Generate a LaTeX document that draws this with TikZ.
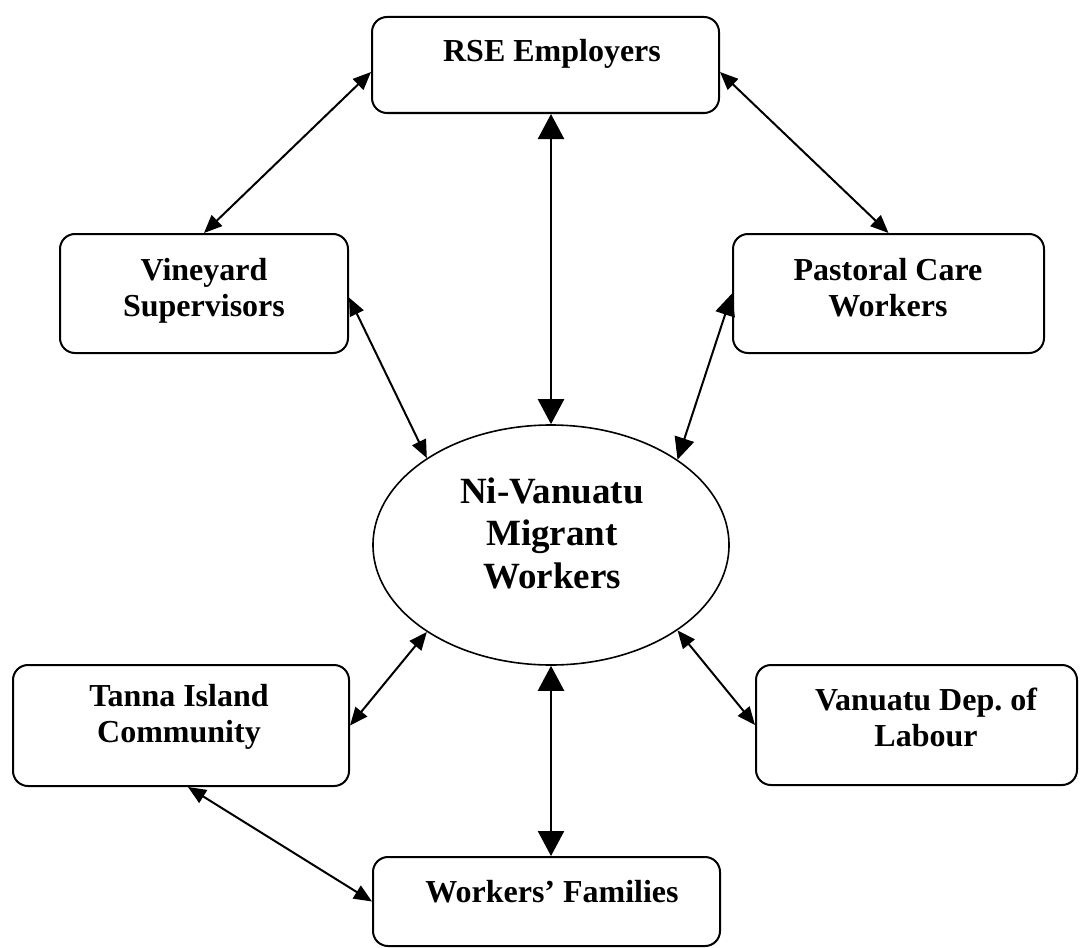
\documentclass[tikz,border=0pt]{standalone}
\usepackage{fontspec}
\setmainfont{Liberation Serif}
\usetikzlibrary{arrows.meta,calc,shapes.geometric}
\begin{document}
\begin{tikzpicture}[x=0.5pt,y=-0.5pt,
  box/.style={draw, line width=1pt, rounded corners=7.5pt, rectangle, inner sep=0pt},
  lbl/.style={font=\bfseries\fontsize{16}{18}\selectfont, align=center, inner sep=0pt},
  elbl/.style={font=\bfseries\fontsize{18.5}{21.25}\selectfont, align=center, inner sep=0pt},
  sarr/.style={line width=1pt, arrows={Triangle[length=9pt,width=7.5pt]-Triangle[length=9pt,width=7.5pt]}},
  marr/.style={line width=1pt, arrows={Triangle[length=11pt,width=10pt]-Triangle[length=11pt,width=10pt]}},
  barr/.style={line width=1.2pt, arrows={Triangle[length=12.5pt,width=13pt]-Triangle[length=12.5pt,width=13pt]}}
]
\useasboundingbox (0,0) rectangle (1080,947);
% boxes
\node[box, minimum width=173.5pt, minimum height=48pt] (rse) at (545.5,65) {};
\node[box, minimum width=144pt, minimum height=59.5pt] (vine) at (204,293.5) {};
\node[box, minimum width=155.5pt, minimum height=59.5pt] (past) at (888.5,293.5) {};
\node[draw, line width=0.8pt, ellipse, inner sep=0pt, minimum width=178pt, minimum height=120pt] (ell) at (551,545) {};
\node[box, minimum width=168pt, minimum height=60.5pt] (tanna) at (181,725.5) {};
\node[box, minimum width=160.5pt, minimum height=60pt] (vanu) at (916.5,725) {};
\node[box, minimum width=173.5pt, minimum height=44.5pt] (wf) at (546.5,901.5) {};
% labels
\node[lbl, anchor=base] (rset) at (552,62) {RSE Employers};
\node[lbl] (vinet) at (204,291) {Vineyard\\Supervisors};
\node[lbl] (pastt) at (888,288) {Pastoral Care\\Workers};
\node[elbl] (ellt) at (552,533) {Ni-Vanuatu\\Migrant\\Workers};
\node[lbl] (tannat) at (179,717) {Tanna Island\\Community};
\node[lbl] (vanut) at (926,717) {Vanuatu Dep.\ of\\Labour};
\node[lbl, anchor=base] (wft) at (552,902) {Workers’ Families};
% connectors
\draw[sarr] ($(rse.west)+(0,7)$) -- (vine.north);
\draw[sarr] ($(rse.east)+(0,7)$) -- (past.north);
\draw[barr] (ell.north |- rse.south) -- (ell.north);
\draw[sarr] ($(vine.east)+(0,4)$) -- (ell.145);
\draw[marr] (past.west) -- (ell.34);
\draw[sarr] (tanna.east) -- (ell.215);
\draw[sarr] (vanu.west) -- (ell.326);
\draw[barr] (ell.south) -- (ell.south |- wf.north);
\draw[sarr] ($(tanna.south)+(7,0)$) -- (wf.west);
\end{tikzpicture}
\end{document}
